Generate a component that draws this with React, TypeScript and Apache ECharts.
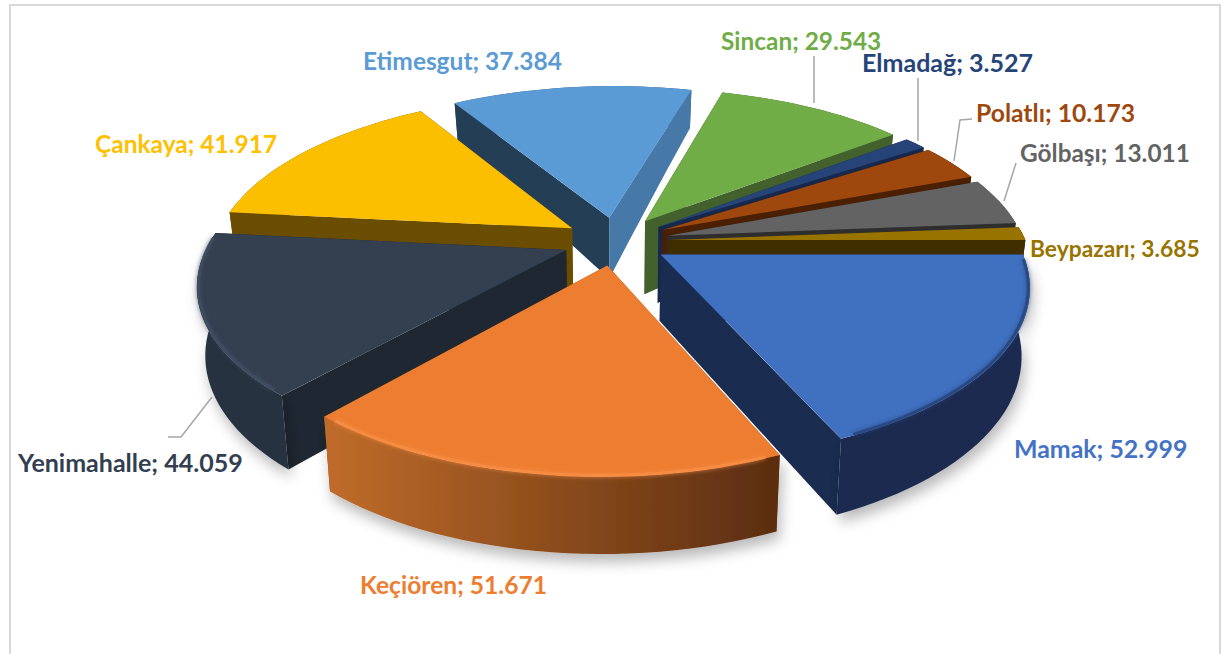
import React, { useEffect, useRef } from "react";
import * as echarts from "echarts";

const districts = ["Mamak","Keçiören","Yenimahalle","Çankaya","Etimesgut","Sincan","Elmadağ","Polatlı","Gölbaşı","Beypazarı"];
const populations = [52999,51671,44059,41917,37384,29543,3527,10173,13011,3685];
const topColors = ["#4070C0","#ED7D31","#343F50","#FBBF00","#5B9BD5","#70AD47","#264478","#9E480E","#636363","#997300"];
const labelColors = ["#4472C4","#ED7D31","#333F50","#FFC000","#5B9BD5","#70AD47","#264478","#9E480E","#636363","#997300"];
const startWallColors = ["#1A2C50","#8A4A1C","#1F2732","#6A4D00","#243F55","#42612C","#16294C","#4A1F02","#2E2E2E","#3F2E00"];
const endWallColors = ["#1A2C50","#8A4A1C","#1F2732","#6A4D00","#4678A8","#42612C","#16294C","#4A1F02","#2E2E2E","#3F2E00"];
const outerStops: string[][] = [["#1A2C50","#1A2C50"],["#C06C2A","#5A2D10"],["#28323F","#28323F"],["#6A4D00","#6A4D00"],["#2F5F8A","#2F5F8A"],["#42612C","#42612C"],["#16294C","#16294C"],["#4A1F02","#4A1F02"],["#3A3A3A","#3A3A3A"],["#3F2E00","#3F2E00"]];
const rimColors = ["#27447C","#F78E45","#3F4D62","","","","","","",""];
const wallScales = [1,1,1,1,1,1.18,1.2,1,1,1];
const paintOrder = [4,3,5,6,7,8,9,0,2,1];
const labelAnchors: number[][] = [[1014,448],[360,584],[18,462],[95,143],[363,60],[721,40],[862,62],[976,112],[1020,152],[1030,248]];
const labelSizes = [24.9,24.6,25,24.5,24.5,24.4,25,24.7,24.4,22.8];
const leaderLines: number[][][] = [
  [[814,56],[814,103]],
  [[918,78],[918,141]],
  [[972,119],[960,120],[954,161]],
  [[1016,163],[1004,201]],
  [[168,437],[181,437],[212,397]],
];

const CX = 616, CY = 241, RX = 357, RY = 163, K = 0.18, SHEAR = 4, EXPLODE = 0.148;
const total = populations.reduce((a, b) => a + b, 0);
const startClock = 90;

const fmt = (v: number) => String(v).replace(/\B(?=(\d{3})+$)/g, ".");

function project(U: number, V: number, wallScale = 1) {
  const s = 1 / (1 - K * V);
  const h = (s < 1 ? 66 * s * s * s : 66 * Math.pow(s, 0.7)) * wallScale;
  const x = CX + RX * U * s - SHEAR * V;
  return { x, y: CY + RY * V * s, h, bx: x + (CX - x) * 0.02 };
}

function sliceAngles(i: number) {
  let acc = 0;
  for (let j = 0; j < i; j++) acc += populations[j];
  const a0 = startClock + (acc / total) * 360;
  const a1 = a0 + (populations[i] / total) * 360;
  return { a0, a1 };
}

const rad = (d: number) => (d * Math.PI) / 180;

function renderSlice(_params: any, api: any) {
  const i = api.value(0);
  const { a0, a1 } = sliceAngles(i);
  const mid = (a0 + a1) / 2;
  const aU = EXPLODE * Math.sin(rad(mid));
  const aV = -EXPLODE * Math.cos(rad(mid));
  const ws = wallScales[i];

  const n = Math.max(6, Math.round((a1 - a0) / 2));
  const arc = [];
  for (let k = 0; k <= n; k++) {
    const a = a0 + ((a1 - a0) * k) / n;
    arc.push(project(aU + Math.sin(rad(a)), aV - Math.cos(rad(a)), ws));
  }
  const radial = (a: number) => {
    const out = [];
    for (let k = 0; k <= 10; k++) {
      const t = k / 10;
      out.push(project(aU + t * Math.sin(rad(a)), aV - t * Math.cos(rad(a)), ws));
    }
    return out;
  };
  const wall = (line: any[]) => [
    ...line.map((p) => [p.x, p.y]),
    ...line.slice().reverse().map((p) => [p.bx, p.y + p.h]),
  ];
  const apex = project(aU, aV);
  const front = i <= 2;
  const outer = {
    type: "polygon",
    shape: { points: wall(arc) },
    style: {
      fill: new echarts.graphic.LinearGradient(0, 0, 1, 0, [
        { offset: 0, color: outerStops[i][0] },
        { offset: 1, color: outerStops[i][1] },
      ]),
      ...(front ? { shadowBlur: 14, shadowColor: "rgba(0,0,0,0.28)", shadowOffsetY: 8, shadowOffsetX: 3 } : {}),
    },
  };
  const walls = [
    { type: "polygon", shape: { points: wall(radial(a0)) }, style: { fill: startWallColors[i] } },
    { type: "polygon", shape: { points: wall(radial(a1)) }, style: { fill: endWallColors[i] } },
  ];
  const children: any[] = aV > 0 ? [...walls, outer] : [outer, ...walls];
  children.push({
    type: "polygon",
    shape: { points: [[apex.x, apex.y], ...arc.map((p) => [p.x, p.y])] },
    style: { fill: topColors[i] },
  });
  if (rimColors[i]) {
    children.push({
      type: "polyline",
      shape: { points: arc.slice(1, -1).map((p) => [p.x + (CX - p.x) * 0.004, p.y - 1]) },
      style: { stroke: rimColors[i], lineWidth: 3, fill: "none", opacity: 0.8, shadowBlur: 4, shadowColor: rimColors[i] },
    });
  }
  return { type: "group", children };
}

export default function App() {
  const ref = useRef<HTMLDivElement>(null);
  useEffect(() => {
    const chart = echarts.init(ref.current!, undefined, { renderer: "svg" });
    chart.setOption({
      animation: false,
      backgroundColor: "#ffffff",
      graphic: [
        { type: "rect", shape: { x: 10, y: 5, width: 1210, height: 700 }, style: { fill: "none", stroke: "#D9D9D9", lineWidth: 2 }, z: 0 },
        ...leaderLines.map((pts) => ({
          type: "polyline",
          shape: { points: pts },
          style: { stroke: "#A6A6A6", lineWidth: 1.5, fill: "none" },
          z: 5,
        })),
        ...districts.map((d, i) => ({
          type: "text",
          x: labelAnchors[i][0],
          y: labelAnchors[i][1],
          z: 6,
          style: {
            text: `${d}; ${fmt(populations[i])}`,
            fill: labelColors[i],
            font: `bold ${labelSizes[i]}px Lato, "Open Sans", sans-serif`,
            textAlign: "left",
            textVerticalAlign: "middle",
          },
        })),
      ],
      series: [
        {
          type: "custom",
          coordinateSystem: "none",
          renderItem: renderSlice,
          data: paintOrder.map((i) => [i]),
          silent: true,
          z: 2,
        },
      ],
    });
    return () => chart.dispose();
  }, []);
  return <div ref={ref} style={{ position: "fixed", left: 0, top: 0, width: 1224, height: 654 }} />;
}
